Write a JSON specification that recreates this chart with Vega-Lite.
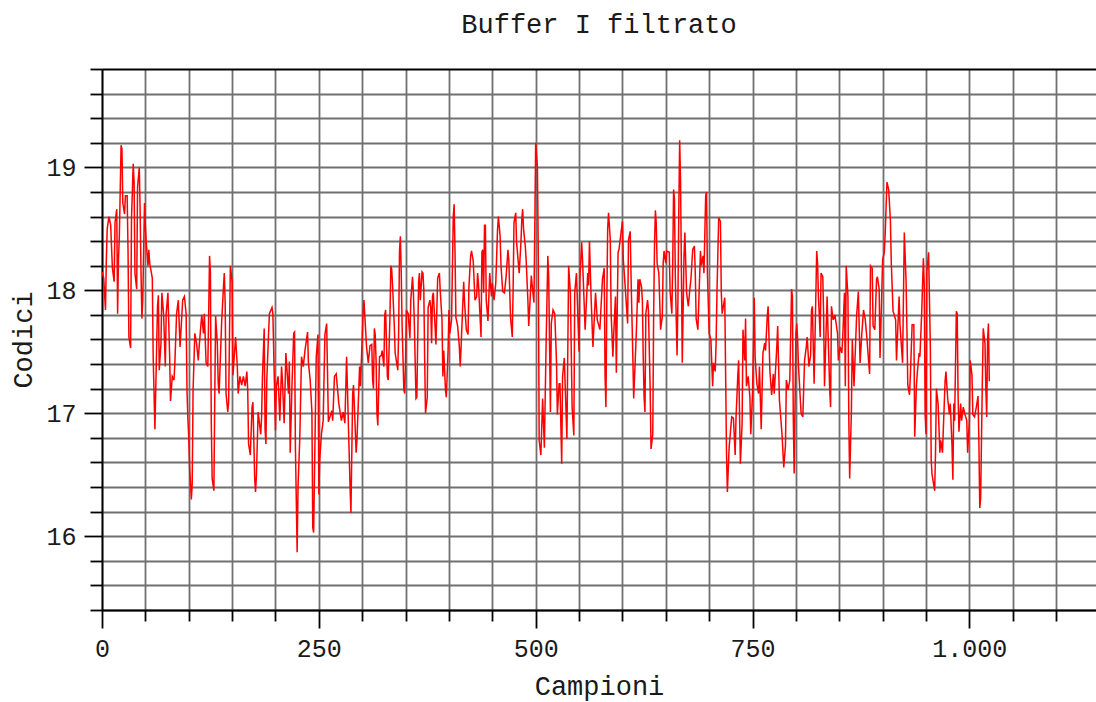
{
  "$schema": "https://vega.github.io/schema/vega-lite/v6.json",
  "autosize": {"type": "none"},
  "width": 994,
  "height": 541,
  "padding": {"left": 102, "top": 69, "right": 0, "bottom": 92},
  "background": "white",
  "config": {"view": {"stroke": null}, "font": "Liberation Mono"},
  "title": {"text": "Buffer I filtrato", "font": "Liberation Mono", "fontSize": 27, "fontWeight": "normal", "color": "#1a1a1a", "anchor": "middle", "offset": 18},
  "data": {"values": [
    {"i":0,"v":18.15},{"i":2,"v":18.1},{"i":4,"v":17.84},{"i":5,"v":18.25},{"i":6,"v":18.5},{"i":8,"v":18.6},{"i":10,"v":18.53},{"i":12,"v":18.18},{"i":14,"v":18.07},{"i":15,"v":18.55},{"i":17,"v":18.66},{"i":18,"v":17.81},{"i":19,"v":18.25},{"i":20,"v":18.44},{"i":22,"v":19.18},{"i":23,"v":19.15},{"i":24,"v":18.71},{"i":26,"v":18.62},{"i":27,"v":18.77},{"i":29,"v":18.77},{"i":30,"v":18.33},{"i":31,"v":17.62},{"i":33,"v":17.53},{"i":34,"v":18.58},{"i":36,"v":19.03},{"i":37,"v":18.88},{"i":38,"v":18.14},{"i":40,"v":18.01},{"i":41,"v":18.84},{"i":43,"v":19.0},{"i":44,"v":18.63},{"i":45,"v":18.14},{"i":46,"v":17.77},{"i":47,"v":17.92},{"i":49,"v":18.71},{"i":50,"v":18.52},{"i":51,"v":18.39},{"i":53,"v":18.2},{"i":54,"v":18.33},{"i":55,"v":18.22},{"i":58,"v":18.1},{"i":59,"v":17.46},{"i":61,"v":16.87},{"i":63,"v":17.54},{"i":64,"v":17.87},{"i":65,"v":17.96},{"i":66,"v":17.35},{"i":68,"v":17.57},{"i":69,"v":17.98},{"i":71,"v":17.81},{"i":73,"v":17.38},{"i":74,"v":17.81},{"i":76,"v":17.98},{"i":78,"v":17.46},{"i":79,"v":17.1},{"i":81,"v":17.3},{"i":83,"v":17.27},{"i":84,"v":17.41},{"i":86,"v":17.81},{"i":88,"v":17.92},{"i":90,"v":17.54},{"i":93,"v":17.92},{"i":95,"v":17.95},{"i":97,"v":17.81},{"i":98,"v":17.19},{"i":99,"v":16.96},{"i":100,"v":16.81},{"i":101,"v":16.56},{"i":103,"v":16.3},{"i":104,"v":16.43},{"i":105,"v":17.19},{"i":107,"v":17.65},{"i":109,"v":17.57},{"i":111,"v":17.43},{"i":112,"v":17.54},{"i":115,"v":17.8},{"i":117,"v":17.65},{"i":118,"v":17.81},{"i":120,"v":17.41},{"i":122,"v":17.38},{"i":123,"v":17.81},{"i":124,"v":18.28},{"i":125,"v":18.14},{"i":126,"v":16.92},{"i":127,"v":16.47},{"i":129,"v":16.37},{"i":130,"v":17.12},{"i":131,"v":17.79},{"i":133,"v":17.56},{"i":134,"v":17.24},{"i":135,"v":17.16},{"i":138,"v":17.75},{"i":140,"v":18.02},{"i":141,"v":18.14},{"i":142,"v":17.9},{"i":143,"v":17.16},{"i":145,"v":17.01},{"i":146,"v":17.09},{"i":148,"v":18.2},{"i":150,"v":18.07},{"i":151,"v":17.31},{"i":154,"v":17.62},{"i":156,"v":17.38},{"i":157,"v":17.16},{"i":159,"v":17.3},{"i":161,"v":17.23},{"i":163,"v":17.3},{"i":165,"v":17.22},{"i":167,"v":17.34},{"i":168,"v":17.19},{"i":169,"v":16.75},{"i":171,"v":16.66},{"i":173,"v":17.05},{"i":174,"v":17.09},{"i":176,"v":16.48},{"i":177,"v":16.36},{"i":178,"v":16.49},{"i":180,"v":17.01},{"i":183,"v":16.83},{"i":184,"v":16.97},{"i":185,"v":17.3},{"i":187,"v":17.69},{"i":188,"v":16.87},{"i":189,"v":16.75},{"i":190,"v":17.27},{"i":192,"v":17.64},{"i":193,"v":17.81},{"i":196,"v":17.86},{"i":197,"v":17.81},{"i":200,"v":16.86},{"i":201,"v":17.22},{"i":203,"v":17.3},{"i":205,"v":16.94},{"i":207,"v":17.38},{"i":208,"v":17.27},{"i":210,"v":16.92},{"i":212,"v":17.49},{"i":215,"v":17.16},{"i":216,"v":17.42},{"i":217,"v":16.68},{"i":219,"v":17.22},{"i":221,"v":17.65},{"i":222,"v":17.66},{"i":223,"v":16.72},{"i":225,"v":15.87},{"i":226,"v":16.4},{"i":228,"v":16.79},{"i":230,"v":17.46},{"i":232,"v":17.38},{"i":234,"v":17.51},{"i":237,"v":17.66},{"i":238,"v":17.41},{"i":240,"v":17.27},{"i":242,"v":17.01},{"i":243,"v":16.07},{"i":244,"v":16.03},{"i":247,"v":17.46},{"i":249,"v":17.64},{"i":250,"v":16.34},{"i":251,"v":16.62},{"i":253,"v":16.83},{"i":255,"v":16.94},{"i":257,"v":17.64},{"i":259,"v":17.73},{"i":261,"v":16.93},{"i":265,"v":17.02},{"i":266,"v":16.94},{"i":268,"v":17.3},{"i":270,"v":17.32},{"i":273,"v":17.08},{"i":276,"v":16.94},{"i":278,"v":17.01},{"i":280,"v":16.92},{"i":282,"v":17.46},{"i":286,"v":16.4},{"i":287,"v":16.19},{"i":289,"v":17.16},{"i":290,"v":17.23},{"i":293,"v":16.68},{"i":294,"v":16.79},{"i":297,"v":17.38},{"i":298,"v":17.22},{"i":301,"v":17.81},{"i":302,"v":17.92},{"i":305,"v":17.54},{"i":307,"v":17.41},
    {"i":309,"v":17.55},{"i":311,"v":17.56},{"i":312,"v":17.27},{"i":313,"v":17.2},{"i":314,"v":17.69},{"i":315,"v":17.64},{"i":316,"v":17.43},{"i":317,"v":17.0},{"i":318,"v":16.9},{"i":320,"v":17.46},{"i":322,"v":17.47},{"i":323,"v":17.51},{"i":325,"v":17.38},{"i":326,"v":17.8},{"i":327,"v":17.84},{"i":329,"v":17.3},{"i":330,"v":17.27},{"i":332,"v":17.79},{"i":333,"v":18.2},{"i":334,"v":18.17},{"i":335,"v":18.04},{"i":337,"v":17.71},{"i":338,"v":17.49},{"i":341,"v":17.35},{"i":342,"v":17.65},{"i":343,"v":18.32},{"i":344,"v":18.44},{"i":345,"v":18.14},{"i":346,"v":17.71},{"i":348,"v":17.19},{"i":349,"v":17.16},{"i":350,"v":17.46},{"i":351,"v":17.84},{"i":353,"v":17.81},{"i":355,"v":17.61},{"i":356,"v":17.92},{"i":358,"v":18.11},{"i":359,"v":17.98},{"i":360,"v":17.76},{"i":362,"v":17.12},{"i":363,"v":17.13},{"i":365,"v":18.07},{"i":366,"v":18.14},{"i":367,"v":17.92},{"i":369,"v":18.15},{"i":370,"v":18.14},{"i":371,"v":18.01},{"i":372,"v":17.45},{"i":373,"v":17.0},{"i":375,"v":17.13},{"i":376,"v":17.86},{"i":378,"v":17.92},{"i":379,"v":17.86},{"i":380,"v":17.57},{"i":381,"v":17.95},{"i":382,"v":17.98},{"i":385,"v":17.56},{"i":387,"v":18.1},{"i":389,"v":18.14},{"i":390,"v":17.99},{"i":392,"v":17.76},{"i":393,"v":17.3},{"i":394,"v":17.51},{"i":396,"v":17.19},{"i":397,"v":17.13},{"i":399,"v":17.51},{"i":400,"v":17.84},{"i":401,"v":17.65},{"i":403,"v":17.76},{"i":405,"v":18.6},{"i":406,"v":18.7},{"i":407,"v":18.31},{"i":408,"v":17.78},{"i":410,"v":17.71},{"i":412,"v":17.54},{"i":413,"v":17.38},{"i":414,"v":17.54},{"i":417,"v":18.07},{"i":418,"v":17.9},{"i":420,"v":17.68},{"i":422,"v":17.64},{"i":423,"v":18.02},{"i":425,"v":18.28},{"i":426,"v":18.32},{"i":428,"v":18.24},{"i":430,"v":17.92},{"i":432,"v":17.95},{"i":433,"v":18.14},{"i":434,"v":18.06},{"i":437,"v":17.62},{"i":438,"v":18.31},{"i":439,"v":18.33},{"i":440,"v":17.98},{"i":441,"v":18.53},{"i":442,"v":18.53},{"i":443,"v":17.92},{"i":445,"v":17.75},{"i":447,"v":18.14},{"i":449,"v":17.95},{"i":450,"v":18.06},{"i":452,"v":17.92},{"i":454,"v":18.06},{"i":456,"v":18.49},{"i":457,"v":18.6},{"i":459,"v":18.44},{"i":460,"v":18.2},{"i":462,"v":17.99},{"i":464,"v":17.98},{"i":466,"v":18.12},{"i":468,"v":18.33},{"i":469,"v":18.25},{"i":471,"v":17.78},{"i":473,"v":17.62},{"i":474,"v":18.01},{"i":475,"v":18.55},{"i":477,"v":18.63},{"i":478,"v":18.39},{"i":481,"v":18.14},{"i":483,"v":18.39},{"i":484,"v":18.58},{"i":485,"v":18.66},{"i":486,"v":18.5},{"i":488,"v":18.36},{"i":489,"v":18.25},{"i":491,"v":17.92},{"i":492,"v":17.71},{"i":495,"v":18.12},{"i":496,"v":18.04},{"i":498,"v":17.9},{"i":499,"v":18.52},{"i":500,"v":19.2},{"i":502,"v":19.0},{"i":503,"v":18.31},{"i":504,"v":16.78},{"i":506,"v":16.66},{"i":508,"v":17.12},{"i":510,"v":16.72},{"i":512,"v":17.56},{"i":514,"v":18.28},{"i":515,"v":18.11},{"i":517,"v":17.01},{"i":518,"v":17.73},{"i":520,"v":17.84},{"i":522,"v":17.81},{"i":524,"v":17.42},{"i":525,"v":16.99},{"i":527,"v":17.24},{"i":528,"v":17.24},{"i":530,"v":16.59},{"i":531,"v":17.3},{"i":533,"v":17.45},{"i":536,"v":16.79},{"i":538,"v":18.2},{"i":540,"v":17.98},{"i":542,"v":17.05},{"i":544,"v":16.82},{"i":545,"v":17.98},{"i":547,"v":18.14},{"i":550,"v":17.5},{"i":551,"v":18.09},{"i":553,"v":18.39},{"i":554,"v":18.25},{"i":557,"v":17.68},{"i":560,"v":18.14},{"i":561,"v":18.04},{"i":562,"v":18.4},{"i":564,"v":17.92},{"i":566,"v":17.54},{"i":569,"v":17.98},{"i":571,"v":17.76},{"i":574,"v":17.68},{"i":577,"v":18.09},{"i":579,"v":18.18},{"i":580,"v":17.3},{"i":581,"v":17.05},{"i":582,"v":17.92},{"i":583,"v":18.5},{"i":584,"v":18.63},{"i":586,"v":18.41},{"i":587,"v":17.81},{"i":589,"v":17.46},{"i":590,"v":17.65},{"i":592,"v":17.95},{"i":593,"v":17.33},{"i":595,"v":18.31},{"i":596,"v":18.33},{"i":600,"v":18.56},{"i":601,"v":18.25},{"i":603,"v":18.05},{"i":606,"v":17.73},{"i":607,"v":18.41},{"i":609,"v":18.48},{"i":610,"v":18.09},{"i":612,"v":17.46},{"i":613,"v":17.12},{"i":616,"v":17.65},{"i":618,"v":18.09},
    {"i":619,"v":17.9},{"i":620,"v":18.09},{"i":622,"v":18.03},{"i":623,"v":17.92},{"i":624,"v":17.46},{"i":625,"v":17.13},{"i":626,"v":17.01},{"i":627,"v":17.81},{"i":629,"v":17.92},{"i":630,"v":17.84},{"i":632,"v":17.19},{"i":633,"v":16.71},{"i":635,"v":16.83},{"i":636,"v":17.81},{"i":637,"v":18.36},{"i":638,"v":18.65},{"i":639,"v":18.55},{"i":640,"v":18.22},{"i":642,"v":18.14},{"i":644,"v":17.68},{"i":646,"v":17.79},{"i":647,"v":18.22},{"i":648,"v":18.32},{"i":650,"v":18.22},{"i":651,"v":18.32},{"i":654,"v":18.31},{"i":655,"v":17.99},{"i":657,"v":17.81},{"i":658,"v":18.22},{"i":659,"v":18.82},{"i":660,"v":18.74},{"i":661,"v":18.11},{"i":663,"v":17.47},{"i":664,"v":17.92},{"i":665,"v":18.65},{"i":666,"v":19.22},{"i":667,"v":18.9},{"i":668,"v":18.18},{"i":669,"v":17.41},{"i":671,"v":18.28},{"i":672,"v":18.47},{"i":674,"v":17.98},{"i":676,"v":17.87},{"i":678,"v":18.03},{"i":679,"v":18.09},{"i":681,"v":18.33},{"i":683,"v":18.36},{"i":684,"v":18.14},{"i":685,"v":17.77},{"i":687,"v":17.68},{"i":690,"v":18.32},{"i":691,"v":18.2},{"i":693,"v":18.28},{"i":694,"v":18.14},{"i":696,"v":18.77},{"i":697,"v":18.8},{"i":698,"v":18.14},{"i":700,"v":17.65},{"i":702,"v":17.6},{"i":704,"v":17.22},{"i":705,"v":17.41},{"i":707,"v":17.34},{"i":708,"v":17.57},{"i":709,"v":17.98},{"i":711,"v":18.59},{"i":713,"v":18.56},{"i":714,"v":17.98},{"i":715,"v":17.81},{"i":718,"v":17.94},{"i":720,"v":16.68},{"i":721,"v":16.36},{"i":723,"v":16.72},{"i":726,"v":16.97},{"i":728,"v":16.96},{"i":730,"v":16.66},{"i":731,"v":16.97},{"i":733,"v":17.3},{"i":734,"v":17.43},{"i":736,"v":16.59},{"i":738,"v":16.92},{"i":739,"v":17.68},{"i":741,"v":17.43},{"i":742,"v":17.77},{"i":743,"v":17.22},{"i":745,"v":17.3},{"i":747,"v":17.13},{"i":748,"v":16.83},{"i":750,"v":17.16},{"i":752,"v":17.94},{"i":753,"v":17.46},{"i":755,"v":17.24},{"i":757,"v":17.16},{"i":758,"v":17.38},{"i":760,"v":16.87},{"i":762,"v":17.49},{"i":764,"v":17.57},{"i":765,"v":17.51},{"i":767,"v":17.79},{"i":768,"v":17.87},{"i":770,"v":17.35},{"i":772,"v":17.15},{"i":774,"v":17.32},{"i":775,"v":17.16},{"i":778,"v":17.54},{"i":779,"v":17.71},{"i":781,"v":17.11},{"i":784,"v":16.83},{"i":786,"v":16.56},{"i":788,"v":16.74},{"i":789,"v":17.27},{"i":791,"v":17.19},{"i":793,"v":17.27},{"i":795,"v":18.01},{"i":796,"v":17.95},{"i":797,"v":16.97},{"i":798,"v":16.51},{"i":800,"v":17.65},{"i":801,"v":17.73},{"i":802,"v":17.6},{"i":803,"v":17.38},{"i":806,"v":17.0},{"i":808,"v":16.97},{"i":810,"v":17.43},{"i":812,"v":17.54},{"i":813,"v":17.62},{"i":815,"v":17.38},{"i":817,"v":17.47},{"i":818,"v":17.84},{"i":819,"v":17.87},{"i":821,"v":17.24},{"i":824,"v":18.32},{"i":825,"v":18.22},{"i":826,"v":17.95},{"i":828,"v":17.62},{"i":829,"v":18.14},{"i":831,"v":18.11},{"i":832,"v":17.79},{"i":833,"v":17.22},{"i":836,"v":17.95},{"i":837,"v":17.68},{"i":839,"v":17.19},{"i":840,"v":17.05},{"i":841,"v":17.87},{"i":843,"v":17.76},{"i":845,"v":17.8},{"i":848,"v":17.65},{"i":849,"v":17.43},{"i":851,"v":17.54},{"i":853,"v":17.49},{"i":854,"v":17.62},{"i":856,"v":17.98},{"i":857,"v":17.22},{"i":858,"v":18.2},{"i":860,"v":17.95},{"i":861,"v":16.96},{"i":862,"v":16.47},{"i":864,"v":17.02},{"i":865,"v":17.6},{"i":867,"v":17.22},{"i":870,"v":17.79},{"i":872,"v":17.99},{"i":874,"v":17.41},{"i":876,"v":17.65},{"i":878,"v":17.84},{"i":880,"v":17.76},{"i":882,"v":17.6},{"i":884,"v":17.41},{"i":885,"v":17.32},{"i":886,"v":18.2},{"i":888,"v":18.18},{"i":889,"v":17.71},{"i":891,"v":17.68},{"i":893,"v":18.09},{"i":894,"v":18.11},{"i":896,"v":18.01},{"i":897,"v":17.45},{"i":899,"v":17.98},{"i":900,"v":18.25},{"i":902,"v":18.31},{"i":903,"v":18.47},{"i":905,"v":18.88},{"i":907,"v":18.82},{"i":909,"v":18.56},{"i":910,"v":18.22},{"i":912,"v":17.83},{"i":913,"v":17.81},{"i":915,"v":17.76},{"i":916,"v":17.43},{"i":919,"v":17.95},{"i":920,"v":17.72},{"i":922,"v":17.51},{"i":923,"v":17.41},{"i":925,"v":18.47},{"i":927,"v":18.08},{"i":928,"v":17.69},{"i":929,"v":17.23},{"i":931,"v":17.15},{"i":932,"v":17.31},{"i":934,"v":17.72},
    {"i":936,"v":17.72},{"i":937,"v":16.81},{"i":939,"v":17.23},{"i":940,"v":17.33},{"i":942,"v":17.49},{"i":943,"v":17.46},{"i":945,"v":17.81},{"i":947,"v":18.26},{"i":948,"v":18.04},{"i":949,"v":16.99},{"i":950,"v":16.83},{"i":951,"v":18.15},{"i":953,"v":18.31},{"i":955,"v":17.54},{"i":956,"v":16.62},{"i":957,"v":16.5},{"i":960,"v":16.37},{"i":961,"v":16.69},{"i":962,"v":17.2},{"i":964,"v":17.07},{"i":966,"v":16.68},{"i":967,"v":16.78},{"i":969,"v":16.68},{"i":972,"v":17.26},{"i":973,"v":17.34},{"i":975,"v":17.12},{"i":977,"v":16.99},{"i":978,"v":17.08},{"i":980,"v":16.73},{"i":981,"v":16.46},{"i":982,"v":17.08},{"i":983,"v":16.94},{"i":985,"v":17.83},{"i":986,"v":17.81},{"i":987,"v":17.14},{"i":988,"v":16.85},{"i":990,"v":17.08},{"i":991,"v":16.94},{"i":993,"v":17.05},{"i":995,"v":16.99},{"i":997,"v":16.94},{"i":998,"v":16.68},{"i":1000,"v":16.94},{"i":1001,"v":17.43},{"i":1003,"v":17.31},{"i":1004,"v":16.99},{"i":1006,"v":16.97},{"i":1008,"v":17.05},{"i":1010,"v":17.14},{"i":1011,"v":16.76},{"i":1012,"v":16.23},{"i":1013,"v":16.31},{"i":1015,"v":17.28},{"i":1016,"v":17.69},{"i":1018,"v":17.57},{"i":1019,"v":17.2},{"i":1020,"v":16.97},{"i":1021,"v":17.6},{"i":1022,"v":17.73},{"i":1023,"v":17.26}
  ]},
  "mark": {"type": "line", "color": "#ff0000", "strokeWidth": 1.5, "clip": true},
  "encoding": {
    "x": {
      "field": "i", "type": "quantitative",
      "scale": {"domain": [0, 1146], "nice": false, "zero": false},
      "axis": {
        "title": "Campioni", "titleFont": "Liberation Mono", "titleFontSize": 27, "titleFontWeight": "normal", "titleColor": "#1a1a1a", "titlePadding": 12,
        "values": [0,50,100,150,200,250,300,350,400,450,500,550,600,650,700,750,800,850,900,950,1000,1050,1100],
        "grid": true, "gridColor": "#707070", "gridWidth": 1.8, "gridOpacity": 1,
        "domainColor": "#000000", "domainWidth": 1.8,
        "tickColor": "#000000", "tickWidth": 1.8,
        "tickSize": {"condition": {"test": "datum.value % 250 === 0", "value": 18}, "value": 11},
        "labelExpr": "datum.value % 250 === 0 ? replace(format(datum.value, ','), ',', '.') : ''",
        "labelFont": "Liberation Mono", "labelFontSize": 25, "labelColor": "#1a1a1a", "labelPadding": 8,
        "labelFlush": false, "labelOverlap": false
      }
    },
    "y": {
      "field": "v", "type": "quantitative",
      "scale": {"domain": [15.4, 19.8], "nice": false, "zero": false},
      "axis": {
        "title": "Codici", "titleFont": "Liberation Mono", "titleFontSize": 27, "titleFontWeight": "normal", "titleColor": "#1a1a1a", "titlePadding": 8,
        "values": [15.4,15.6,15.8,16,16.2,16.4,16.6,16.8,17,17.2,17.4,17.6,17.8,18,18.2,18.4,18.6,18.8,19,19.2,19.4,19.6,19.8],
        "grid": true, "gridOpacity": 1, "gridWidth": 1.8,
        "gridColor": {"condition": {"test": "datum.value > 19.75", "value": "#000000"}, "value": "#707070"},
        "domainColor": "#000000", "domainWidth": 1.8,
        "tickColor": "#000000", "tickWidth": 1.8,
        "tickSize": {"condition": {"test": "abs(datum.value - round(datum.value)) < 0.01", "value": 18}, "value": 12},
        "labelExpr": "abs(datum.value - round(datum.value)) < 0.01 ? format(datum.value, 'd') : ''",
        "labelFont": "Liberation Mono", "labelFontSize": 25, "labelColor": "#1a1a1a", "labelPadding": 8,
        "labelFlush": false, "labelOverlap": false
      }
    }
  }
}
